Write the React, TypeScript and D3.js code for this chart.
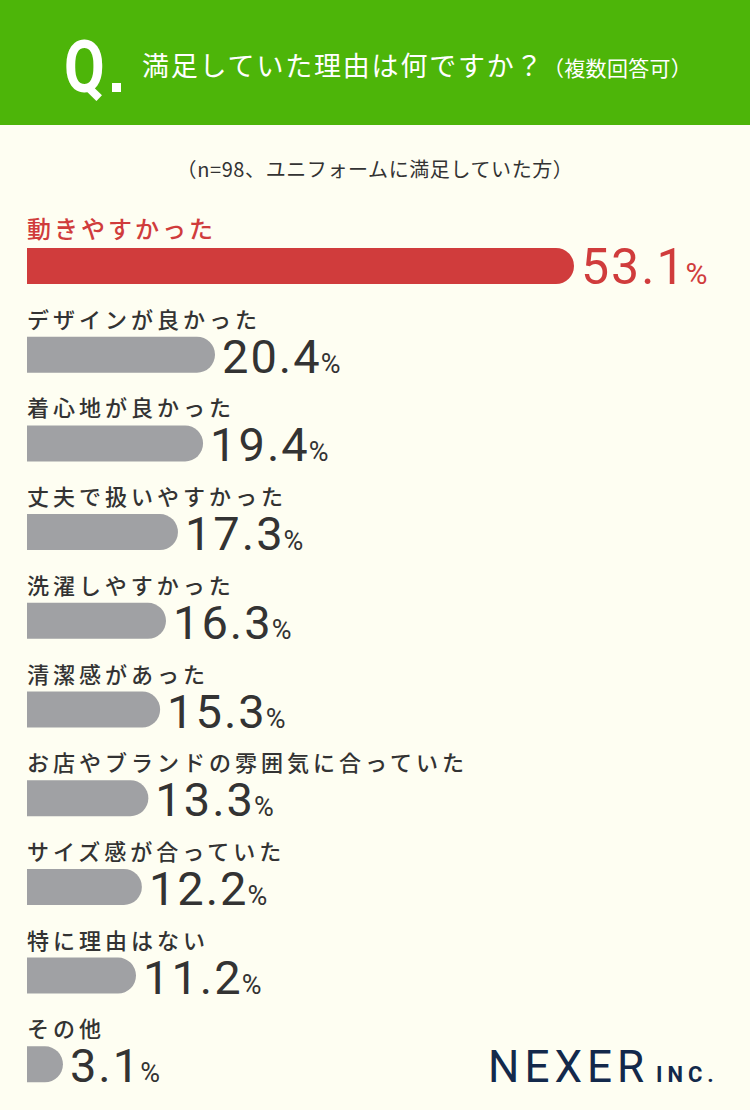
import React from "react";
import * as d3 from "d3";

const categories = [
  "動きやすかった",
  "デザインが良かった",
  "着心地が良かった",
  "丈夫で扱いやすかった",
  "洗濯しやすかった",
  "清潔感があった",
  "お店やブランドの雰囲気に合っていた",
  "サイズ感が合っていた",
  "特に理由はない",
  "その他",
];
const values = [53.1, 20.4, 19.4, 17.3, 16.3, 15.3, 13.3, 12.2, 11.2, 3.1];
const titleMain = "満足していた理由は何ですか？";
const titleSub = "（複数回答可）";
const subtitle = "（n=98、ユニフォームに満足していた方）";

const W = 750;
const H = 1110;
const BG = "#fefef2";
const GREEN = "#4db509";
const RED = "#d03c3c";
const GRAY = "#a0a1a4";
const TEXT = "#333333";
const NAVY = "#13294b";
const JP = "'Noto Sans CJK JP', 'Noto Sans', sans-serif";
const NUM = "Roboto, 'Noto Sans', sans-serif";

export default function App() {
  const x0 = 27;
  const barH = 36;
  const y = d3
    .scaleBand<number>()
    .domain(d3.range(categories.length))
    .range([248, 248 + 88.7 * categories.length])
    .paddingInner(0)
    .paddingOuter(0);
  const w = d3
    .scaleLinear()
    .domain([0, 11.2, 16.3, 20.4, 53.1])
    .range([8, 109, 139, 188, 547]);

  return (
    <svg
      width={W}
      height={H}
      style={{ position: "absolute", left: 0, top: 0, display: "block" }}
    >
      <rect x={0} y={0} width={W} height={H} fill={BG} />
      <rect x={0} y={0} width={W} height={125} fill={GREEN} />
      <g transform="translate(64,92) scale(0.82,1)">
        <text x={0} y={0} fontFamily={NUM} fontWeight={700} fontSize={72} fill="#fff">
          Q
        </text>
      </g>
      <rect x={112} y={83} width={9} height={9} fill="#fff" />
      <text x={142} y={76} fontFamily={JP} fontSize={27} fontWeight={400} fill="#fff" letterSpacing={1.8}>
        {titleMain}
      </text>
      <text x={543} y={76} fontFamily={JP} fontSize={21} fontWeight={400} fill="#fff" letterSpacing={0.3}>
        {titleSub}
      </text>
      <text x={375} y={177} textAnchor="middle" fontFamily={JP} fontSize={20} fill={TEXT} letterSpacing={0.6}>
        {subtitle}
      </text>
      {categories.map((c, i) => {
        const top = y(i) as number;
        const first = i === 0;
        const bw = w(values[i]);
        const r = barH / 2;
        const path = `M${x0},${top}H${x0 + bw - r}A${r},${r} 0 0 1 ${x0 + bw - r},${top + barH}H${x0}Z`;
        const color = first ? RED : GRAY;
        const tcolor = first ? RED : TEXT;
        return (
          <g key={c}>
            <text
              x={x0}
              y={first ? top - 10 : top - 9}
              fontFamily={JP}
              fontSize={first ? 24 : 22}
              fontWeight={500}
              letterSpacing={first ? 3 : 4}
              fill={tcolor}
            >
              {c}
            </text>
            <path d={path} fill={color} />
            <text
              x={x0 + bw + 7}
              y={top + barH}
              fontFamily={NUM}
              fontWeight={400}
              fontSize={first ? 50 : 47}
              letterSpacing={first ? 2 : 2}
              fill={tcolor}
            >
              {values[i].toFixed(1)}
              <tspan fontSize={first ? 30 : 27} fontWeight={400} dx={-1}>%</tspan>
            </text>
          </g>
        );
      })}
      <text x={488} y={1082} fontFamily={NUM} fontWeight={400} fontSize={44} letterSpacing={5} fill={NAVY}>
        NEXER
      </text>
      <text x={656} y={1082} fontFamily={NUM} fontWeight={700} fontSize={22} letterSpacing={5} fill={NAVY}>
        INC.
      </text>
    </svg>
  );
}
